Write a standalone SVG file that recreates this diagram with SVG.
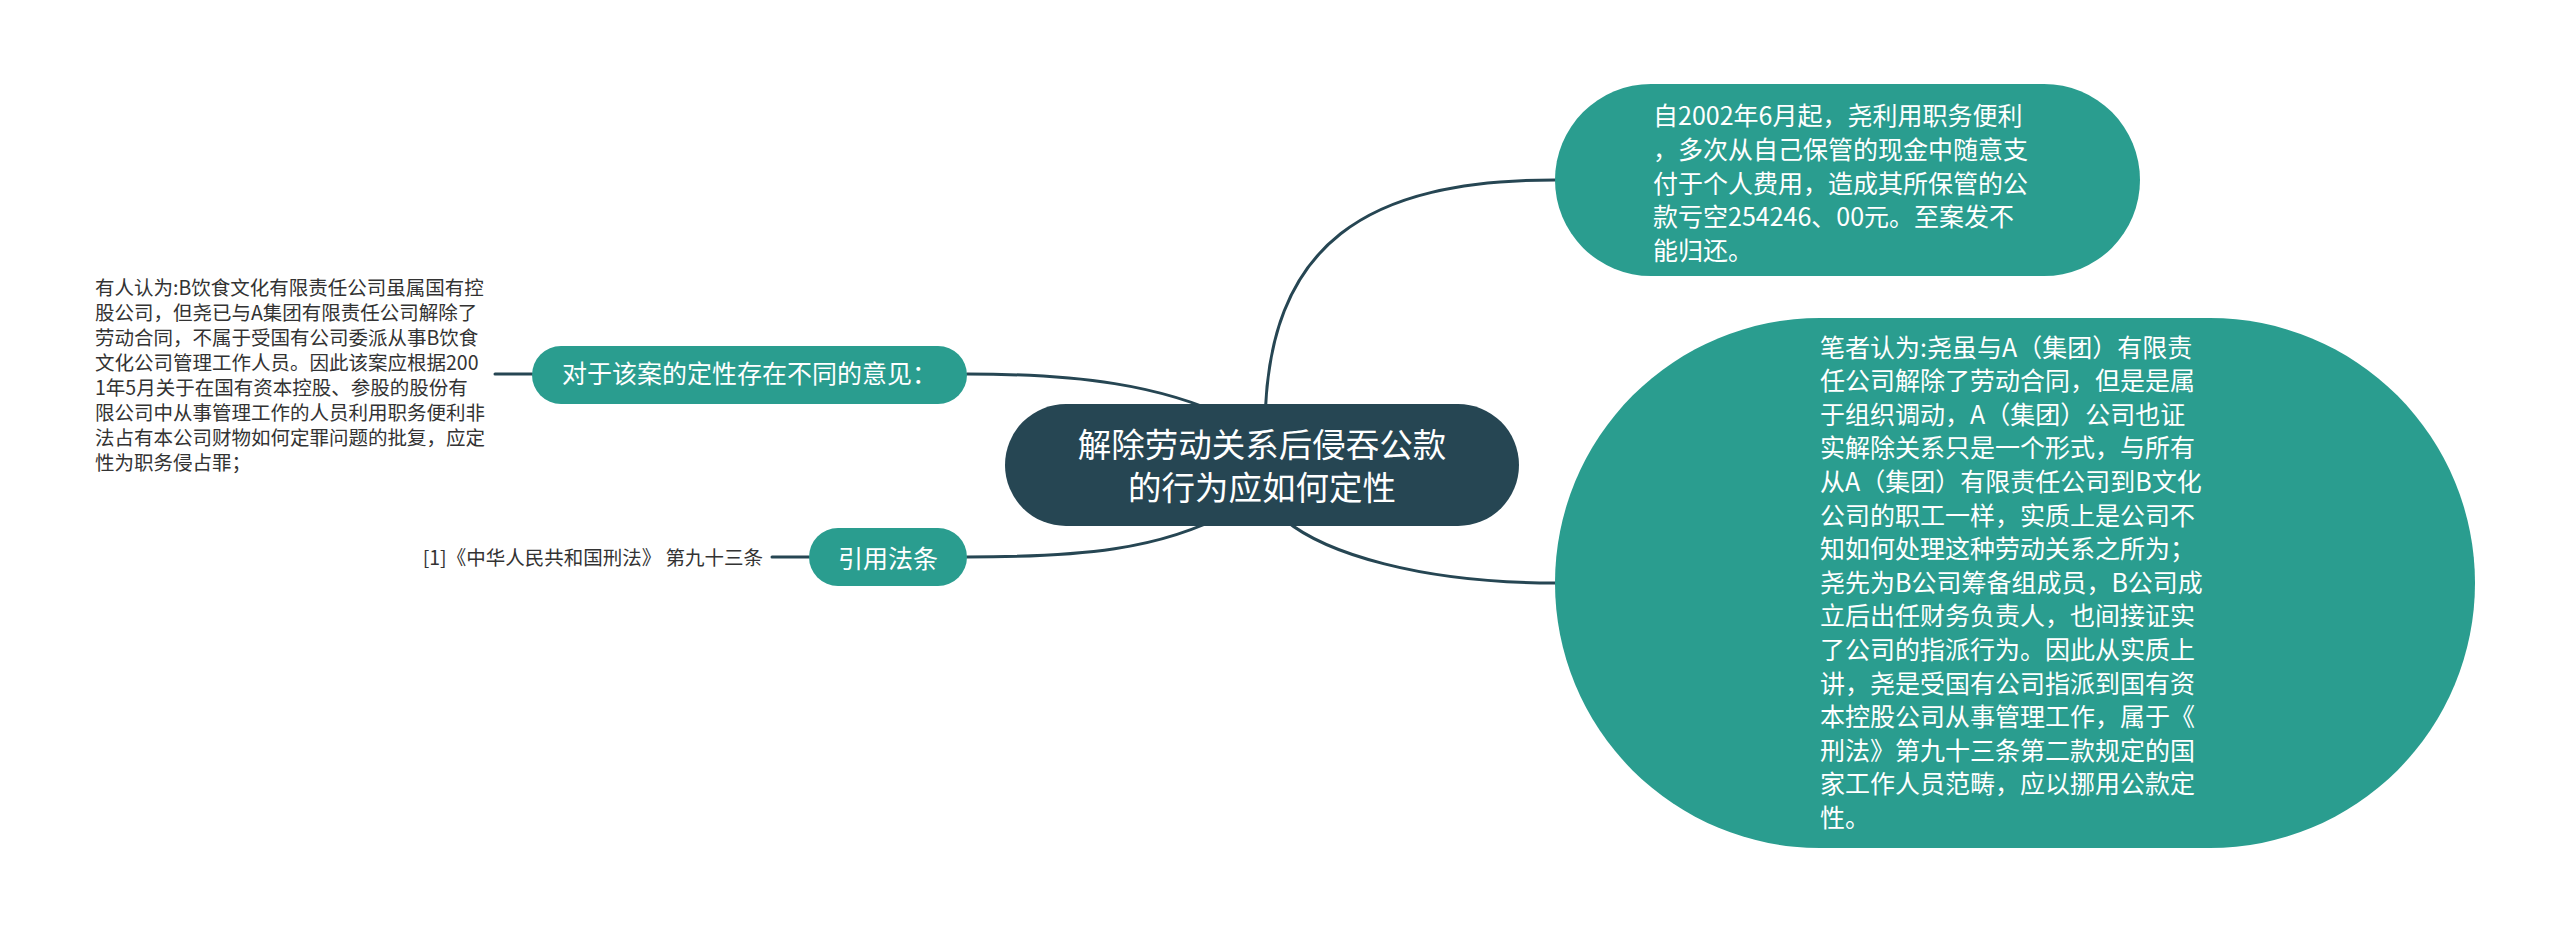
<svg xmlns="http://www.w3.org/2000/svg" width="2560" height="932" viewBox="0 0 2560 932">
<style>
.bg{fill:#ffffff}
.edge{fill:none;stroke:#264653;stroke-width:3;stroke-linecap:round}
.root{fill:#264653}
.teal{fill:#2a9d8f}
.t{font-family:"Noto Sans CJK SC","Noto Sans",sans-serif}
.w{fill:#ffffff}
.d{fill:#333333}
.f25{font-size:25px}
.f19{font-size:19.5px}
.f33{font-size:33.5px}
</style>
<rect class="bg" x="0" y="0" width="2560" height="932"/>
<g id="connectors">
  <path class="edge" d="M1265,430 C1265,240 1370,180 1555,180"/>
  <path class="edge" d="M1285,520 C1325,553 1420,583 1555,583"/>
  <path class="edge" d="M967,374 C1080,374 1160,385 1230,418"/>
  <path class="edge" d="M967,557 C1080,557 1160,550 1230,512"/>
  <path class="edge" d="M495,374 L532,374"/>
  <path class="edge" d="M772,557 L809,557"/>
</g>
<g id="node-root">
  <rect class="root" x="1005" y="404" width="514" height="122" rx="61" ry="61"/>
  <text class="t w f33" text-anchor="middle"><tspan x="1262" y="457">解除劳动关系后侵吞公款</tspan><tspan x="1262" y="500">的行为应如何定性</tspan></text>
</g>
<g id="node-fact">
  <rect class="teal" x="1555" y="84" width="585" height="192" rx="96" ry="96"/>
  <text class="t w f25"><tspan x="1653" y="125">自2002年6月起，尧利用职务便利</tspan><tspan x="1653" y="158.75">，多次从自己保管的现金中随意支</tspan><tspan x="1653" y="192.5">付于个人费用，造成其所保管的公</tspan><tspan x="1653" y="226.25">款亏空254246、00元。至案发不</tspan><tspan x="1653" y="260">能归还。</tspan></text>
</g>
<g id="node-opinion">
  <rect class="teal" x="1555" y="318" width="920" height="530" rx="265" ry="265"/>
  <text class="t w f25"><tspan x="1820" y="356.5">笔者认为:尧虽与A（集团）有限责</tspan><tspan x="1820" y="390.1">任公司解除了劳动合同，但是是属</tspan><tspan x="1820" y="423.7">于组织调动，A（集团）公司也证</tspan><tspan x="1820" y="457.3">实解除关系只是一个形式，与所有</tspan><tspan x="1820" y="490.9">从A（集团）有限责任公司到B文化</tspan><tspan x="1820" y="524.5">公司的职工一样，实质上是公司不</tspan><tspan x="1820" y="558.1">知如何处理这种劳动关系之所为；</tspan><tspan x="1820" y="591.7">尧先为B公司筹备组成员，B公司成</tspan><tspan x="1820" y="625.3">立后出任财务负责人，也间接证实</tspan><tspan x="1820" y="658.9">了公司的指派行为。因此从实质上</tspan><tspan x="1820" y="692.5">讲，尧是受国有公司指派到国有资</tspan><tspan x="1820" y="726.1">本控股公司从事管理工作，属于《</tspan><tspan x="1820" y="759.7">刑法》第九十三条第二款规定的国</tspan><tspan x="1820" y="793.3">家工作人员范畴，应以挪用公款定</tspan><tspan x="1820" y="826.9">性。</tspan></text>
</g>
<g id="node-views">
  <rect class="teal" x="532" y="346" width="435" height="58" rx="29" ry="29"/>
  <text class="t w f25" x="749.5" y="382.5" text-anchor="middle">对于该案的定性存在不同的意见：</text>
</g>
<g id="node-views-text">
  <text class="t d f19"><tspan x="95" y="295.3">有人认为:B饮食文化有限责任公司虽属国有控</tspan><tspan x="95" y="320.3">股公司，但尧已与A集团有限责任公司解除了</tspan><tspan x="95" y="345.3">劳动合同，不属于受国有公司委派从事B饮食</tspan><tspan x="95" y="370.3">文化公司管理工作人员。因此该案应根据200</tspan><tspan x="95" y="395.3">1年5月关于在国有资本控股、参股的股份有</tspan><tspan x="95" y="420.3">限公司中从事管理工作的人员利用职务便利非</tspan><tspan x="95" y="445.3">法占有本公司财物如何定罪问题的批复，应定</tspan><tspan x="95" y="470.3">性为职务侵占罪；</tspan></text>
</g>
<g id="node-law">
  <rect class="teal" x="809" y="528" width="158" height="58" rx="29" ry="29"/>
  <text class="t w f25" x="888" y="567.5" text-anchor="middle">引用法条</text>
</g>
<g id="node-law-text">
  <text class="t d f19" x="763" y="565" text-anchor="end">[1]《中华人民共和国刑法》 第九十三条</text>
</g>
</svg>
